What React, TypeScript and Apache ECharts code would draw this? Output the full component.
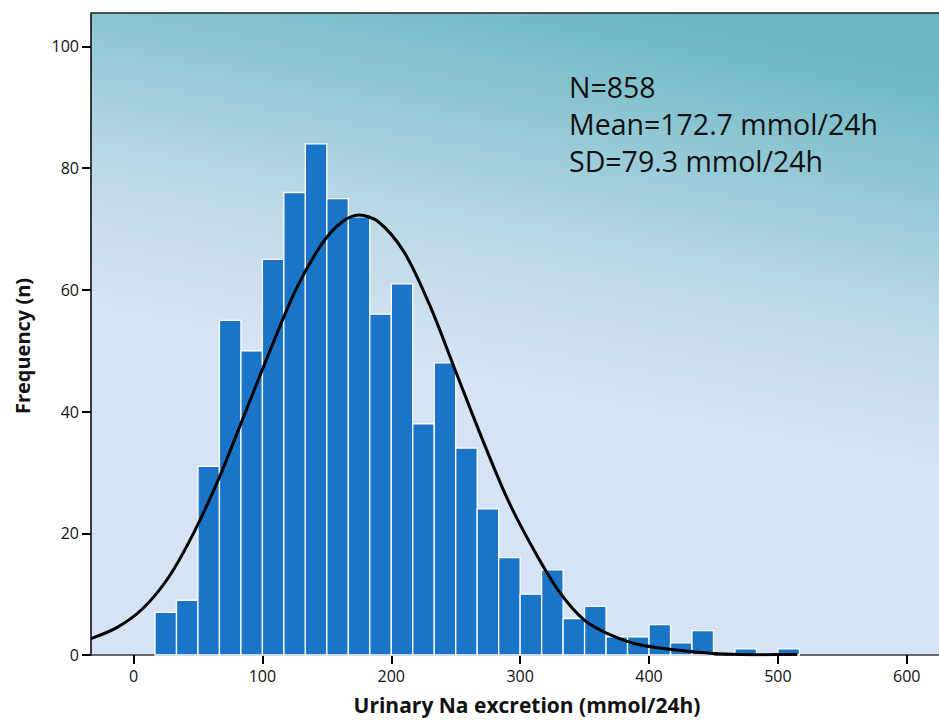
import React, { useEffect, useRef } from "react";
import * as echarts from "echarts";

// Histogram bins (lower edges, mmol/24h), bin width 16.67
const BIN_WIDTH = 50 / 3;
const binStarts = [
  16.67, 33.33, 50, 66.67, 83.33, 100, 116.67, 133.33, 150, 166.67,
  183.33, 200, 216.67, 233.33, 250, 266.67, 283.33, 300, 316.67, 333.33,
  350, 366.67, 383.33, 400, 416.67, 433.33, 450, 466.67, 483.33, 500,
];
const counts = [
  7, 9, 31, 55, 50, 65, 76, 84, 75, 72,
  56, 61, 38, 48, 34, 24, 16, 10, 14, 6,
  8, 3, 3, 5, 2, 4, 0, 1, 0, 1,
];

// Fitted normal curve
const curveX = [-33, -13, 7, 27, 47, 67, 87, 107, 127, 147, 162, 175, 190, 210, 230, 250, 270, 290, 310, 330, 350, 370, 390, 410, 430, 450, 470, 490, 515];
const curveY = [2.7, 4.5, 7.6, 12.7, 20.2, 29.4, 40.0, 50.6, 60.5, 67.8, 71.2, 72.3, 71.2, 66.2, 57.4, 46.6, 35.8, 25.7, 17.5, 10.5, 5.7, 3.3, 1.8, 1.1, 0.6, 0.25, 0.1, 0.06, 0.1];

const xTicks = [0, 100, 200, 300, 400, 500, 600];
const yTicks = [0, 20, 40, 60, 80, 100];

const statLines = ["N=858", "Mean=172.7 mmol/24h", "SD=79.3 mmol/24h"];

const FONT = "'Open Sans', 'Noto Sans', sans-serif";

export default function App() {
  const ref = useRef<HTMLDivElement>(null);
  useEffect(() => {
    document.body.style.margin = "0";
    if (!ref.current) return;
    const chart = echarts.init(ref.current, null, { renderer: "svg" });
    const histData = binStarts.map((s, i) => [s, s + BIN_WIDTH, counts[i]]);
    const curveData = curveX.map((x, i) => [x, curveY[i]]);
    chart.setOption({
      animation: false,
      grid: {
        left: 91,
        right: 0,
        top: 13,
        bottom: 65,
        show: true,
        borderWidth: 0,
        backgroundColor: new echarts.graphic.LinearGradient(0.7, 0, 0.55, 0.6, [
          { offset: 0, color: "#69b6c2" },
          { offset: 0.3, color: "#8fc6d3" },
          { offset: 0.65, color: "#bdd9e8" },
          { offset: 1, color: "#d6e3f4" },
        ]),
      },
      xAxis: {
        type: "value",
        min: -33,
        max: 625,
        splitLine: { show: false },
        axisLine: { show: true, onZero: false, lineStyle: { color: "#3a3a3a", width: 1.5 } },
        axisTick: { show: true, length: 9, customValues: xTicks, lineStyle: { color: "#000", width: 2 } },
        axisLabel: { customValues: xTicks, margin: 13, fontSize: 16, color: "#111", fontFamily: FONT },
      },
      yAxis: {
        type: "value",
        min: 0,
        max: 105.5,
        splitLine: { show: false },
        axisLine: { show: true, onZero: false, lineStyle: { color: "#000", width: 1.5 } },
        axisTick: { show: true, length: 9, customValues: yTicks, lineStyle: { color: "#000", width: 2 } },
        axisLabel: { customValues: yTicks, margin: 12, fontSize: 16, color: "#111", fontFamily: FONT },
      },
      graphic: [
        {
          type: "line",
          shape: { x1: 91, y1: 13, x2: 939, y2: 13 },
          style: { stroke: "#222", lineWidth: 1.5 },
          z: 10,
        },
        {
          type: "text",
          x: 527,
          y: 694,
          style: {
            text: "Urinary Na excretion (mmol/24h)",
            font: `bold 21px ${FONT}`,
            fill: "#111",
            textAlign: "center",
            textVerticalAlign: "top",
          },
        },
        {
          type: "text",
          x: 22,
          y: 346,
          rotation: Math.PI / 2,
          style: {
            text: "Frequency (n)",
            font: `bold 20px ${FONT}`,
            fill: "#111",
            textAlign: "center",
            textVerticalAlign: "middle",
          },
        },
        {
          type: "text",
          x: 569,
          y: 68,
          style: {
            text: statLines.join("\n"),
            font: `28.5px ${FONT}`,
            lineHeight: 37,
            fill: "#111",
            textAlign: "left",
            textVerticalAlign: "top",
          },
          z: 20,
        },
      ],
      series: [
        {
          type: "custom",
          data: histData,
          encode: { x: [0, 1], y: 2 },
          renderItem: (params: any, api: any) => {
            const x0 = api.value(0);
            const x1 = api.value(1);
            const c = api.value(2);
            if (!c) return null;
            const p0 = api.coord([x0, c]);
            const p1 = api.coord([x1, 0]);
            return {
              type: "rect",
              shape: { x: p0[0], y: p0[1], width: p1[0] - p0[0], height: p1[1] - p0[1] },
              style: { fill: "#1a75c9", stroke: "#ffffff", lineWidth: 1.3 },
            };
          },
          z: 2,
        },
        {
          type: "line",
          data: curveData,
          smooth: 0.3,
          symbol: "none",
          lineStyle: { color: "#000", width: 3 },
          z: 5,
        },
      ],
    });
    return () => chart.dispose();
  }, []);
  return <div ref={ref} style={{ width: 939, height: 720 }} />;
}
